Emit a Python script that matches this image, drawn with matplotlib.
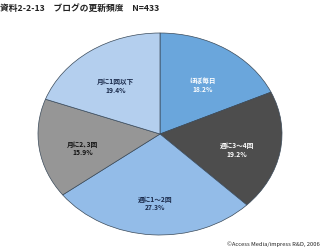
import matplotlib
matplotlib.use("Agg")
import matplotlib.pyplot as plt
import numpy as np

plt.rcParams['font.family'] = ['Noto Sans CJK JP', 'DejaVu Sans']

categories = ["ほぼ毎日", "週に3～4回", "週に1～2回", "月に2､3回", "月に1回以下"]
values = [18.2, 19.2, 27.3, 15.9, 19.4]
colors = ["#6aa6dc", "#4d4d4d", "#93bce8", "#969696", "#b4cfee"]
text_colors = ["white", "white", "#1a2a4a", "#111111", "#1a2a4a"]
title = "資料2-2-13　ブログの更新頻度　N=433"
credit = "©Access Media/impress R&D, 2006"

fig = plt.figure(figsize=(3.2, 2.53), dpi=100)
ax = fig.add_axes([38/320, 1 - 236/253, 244/320, 202/253])
wedges, _ = ax.pie(values, colors=colors, startangle=90, counterclock=False,
                   wedgeprops=dict(edgecolor="#3a4a5a", linewidth=0.5))
ax.set_aspect('auto')
ax.set_xlim(-1.0, 1.0)
ax.set_ylim(-1.0, 1.0)

for w, cat, v, tc in zip(wedges, categories, values, text_colors):
    ang = np.deg2rad((w.theta1 + w.theta2) / 2)
    r = 0.64
    ax.text(r*np.cos(ang), r*np.sin(ang) - 0.04, f"{cat}\n{v}%", ha='center', va='center',
            fontsize=4.8, color=tc, linespacing=1.3, fontweight='bold')

fig.text(0.0, 1 - 8/253, title, ha='left', va='center', fontsize=6.3, color='#222222',
         fontweight='bold')
fig.text(1.0, 1 - 244/253, credit, ha='right', va='center', fontsize=4.2, color='#222222')
fig.savefig("out.png", dpi=100)
